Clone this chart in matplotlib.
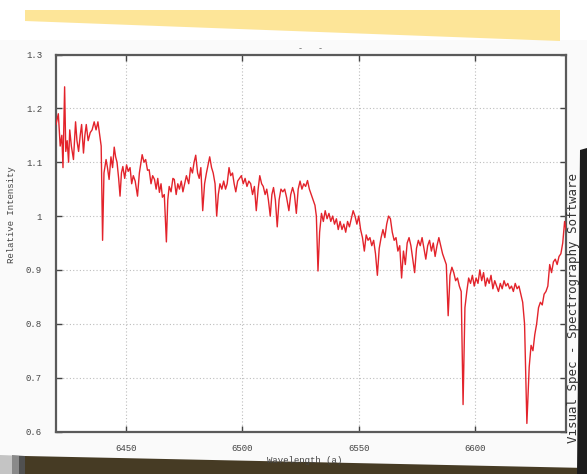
import matplotlib
matplotlib.use("Agg")
import matplotlib.pyplot as plt
from matplotlib.patches import Polygon

wavelength = [
    6420.0, 6421.0, 6421.8, 6422.5, 6423.0, 6423.7, 6424.2, 6424.8, 6425.4, 6425.9,
    6426.6, 6427.5, 6428.4, 6429.0, 6429.7, 6430.4, 6431.0, 6431.8, 6432.4, 6433.0,
    6433.8, 6434.7, 6435.5, 6436.4, 6437.2, 6438.0, 6438.8, 6439.4, 6440.0, 6440.6,
    6441.5, 6442.1, 6442.8, 6443.6, 6444.3, 6445.0, 6445.6, 6446.2, 6446.9, 6447.5,
    6448.1, 6448.7, 6449.5, 6450.3, 6451.0, 6451.8, 6452.5, 6453.2, 6454.0, 6455.0,
    6455.8, 6456.5, 6457.0, 6457.8, 6458.5, 6459.3, 6460.0, 6460.8, 6461.5, 6462.3,
    6463.0, 6463.7, 6464.4, 6465.1, 6465.7, 6466.5, 6467.4, 6468.0, 6468.6, 6469.4,
    6470.2, 6470.8, 6471.6, 6472.3, 6473.0, 6473.8, 6474.5, 6475.2, 6476.0, 6477.0,
    6477.8, 6478.6, 6479.3, 6480.0, 6480.8, 6481.5, 6482.2, 6483.0, 6483.8, 6484.6,
    6485.3, 6486.0, 6486.8, 6487.5, 6488.3, 6489.0, 6489.7, 6490.4, 6491.2, 6492.0,
    6492.8, 6493.5, 6494.3, 6495.0, 6495.8, 6496.5, 6497.2, 6498.0, 6498.8, 6499.6,
    6500.4, 6501.2, 6502.0, 6502.8, 6503.6, 6504.4, 6505.2, 6506.0, 6506.8, 6507.5,
    6508.3, 6509.0, 6509.8, 6510.5, 6511.2, 6512.0, 6512.7, 6513.4, 6514.2, 6515.0,
    6515.8, 6516.6, 6517.4, 6518.2, 6519.0, 6520.0, 6520.8, 6521.6, 6522.4, 6523.2,
    6524.0, 6524.8, 6525.6, 6526.4, 6527.2, 6528.0, 6528.8, 6529.6, 6530.4, 6531.2,
    6531.8, 6532.5, 6533.2, 6534.0, 6534.8, 6535.6, 6536.4, 6537.2, 6538.0, 6538.8,
    6539.6, 6540.4, 6541.2, 6542.0, 6542.8, 6543.6, 6544.4, 6545.2, 6546.0, 6546.8,
    6547.6, 6548.4, 6549.2, 6550.0, 6550.8, 6551.6, 6552.4, 6553.2, 6554.0, 6554.8,
    6555.6, 6556.4, 6557.2, 6558.0, 6558.8, 6559.6, 6560.4, 6561.2, 6562.0, 6562.8,
    6563.6, 6564.4, 6565.2, 6566.0, 6566.8, 6567.6, 6568.4, 6569.2, 6570.0, 6570.8,
    6571.6, 6572.4, 6573.2, 6574.0, 6574.8, 6575.6, 6576.4, 6577.2, 6578.0, 6578.8,
    6579.6, 6580.4, 6581.2, 6582.0, 6582.8, 6583.6, 6584.4, 6585.2, 6586.0, 6586.8,
    6587.6, 6588.4, 6589.2, 6590.0, 6590.8, 6591.6, 6592.4, 6593.2, 6594.0, 6594.8,
    6595.6, 6596.4, 6597.2, 6598.0, 6598.8, 6599.6, 6600.4, 6601.2, 6602.0, 6602.8,
    6603.6, 6604.4, 6605.2, 6606.0, 6606.8, 6607.6, 6608.4, 6609.2, 6610.0, 6610.8,
    6611.6, 6612.4, 6613.2, 6614.0, 6614.8, 6615.6, 6616.4, 6617.2, 6618.0, 6618.8,
    6619.6, 6620.4, 6621.2, 6622.2, 6623.2, 6624.0, 6624.8, 6625.6, 6626.4, 6627.2,
    6628.0, 6628.8, 6629.6, 6630.4, 6631.2, 6632.0, 6632.8, 6633.6, 6634.4, 6635.2,
    6636.0, 6636.8, 6637.6, 6638.4, 6639.0,
]

intensity = [
    1.17, 1.19, 1.13, 1.15, 1.09, 1.24, 1.12, 1.14, 1.10, 1.16,
    1.13, 1.105, 1.175, 1.14, 1.12, 1.15, 1.17, 1.117, 1.15, 1.17,
    1.14, 1.155, 1.16, 1.175, 1.16, 1.175, 1.15, 1.13, 0.955, 1.08,
    1.105, 1.09, 1.068, 1.11, 1.09, 1.128, 1.11, 1.10, 1.07, 1.037,
    1.08, 1.092, 1.07, 1.095, 1.083, 1.09, 1.06, 1.075, 1.065, 1.037,
    1.08, 1.10, 1.114, 1.10, 1.105, 1.085, 1.086, 1.06, 1.075, 1.068,
    1.05, 1.07, 1.044, 1.06, 1.035, 1.04, 0.952, 1.03, 1.055, 1.045,
    1.07, 1.068, 1.04, 1.06, 1.05, 1.065, 1.045, 1.059, 1.075, 1.06,
    1.09, 1.08, 1.10, 1.113, 1.08, 1.07, 1.09, 1.01, 1.06, 1.08,
    1.095, 1.11, 1.09, 1.08, 1.06, 1.0, 1.04, 1.06, 1.05, 1.065,
    1.05, 1.06, 1.09, 1.075, 1.08, 1.06, 1.045, 1.065, 1.07, 1.075,
    1.06, 1.07, 1.055, 1.065, 1.06, 1.04, 1.055, 1.01, 1.05, 1.075,
    1.06, 1.055, 1.04, 1.05, 1.03, 1.0, 1.04, 1.053, 1.03, 0.98,
    1.03, 1.05, 1.045, 1.05, 1.035, 1.01, 1.04, 1.053, 1.04, 1.005,
    1.05, 1.065, 1.05, 1.06, 1.055, 1.066, 1.05, 1.04, 1.03, 1.02,
    1.0, 0.898, 0.97, 1.005, 0.99, 1.01, 0.995, 1.005, 0.99, 1.0,
    0.985, 0.995, 0.975, 0.99, 0.975, 0.985, 0.97, 0.99, 0.98, 0.995,
    1.01, 1.0, 0.985, 1.0, 0.975, 0.96, 0.935, 0.965, 0.955, 0.96,
    0.945, 0.955, 0.93, 0.89, 0.94, 0.96, 0.975, 0.96, 0.985, 1.0,
    0.995, 0.97, 0.955, 0.96, 0.935, 0.945, 0.885, 0.935, 0.91, 0.95,
    0.96, 0.945, 0.92, 0.895, 0.94, 0.955, 0.945, 0.96, 0.94, 0.92,
    0.945, 0.955, 0.935, 0.95, 0.925, 0.945, 0.96, 0.945, 0.93, 0.92,
    0.91, 0.815, 0.89, 0.905, 0.895, 0.88, 0.885, 0.87, 0.86, 0.65,
    0.83, 0.86, 0.885, 0.875, 0.89, 0.87, 0.885, 0.875, 0.9, 0.88,
    0.895, 0.87, 0.885, 0.875, 0.89, 0.865, 0.88, 0.87, 0.86, 0.875,
    0.865, 0.88, 0.87, 0.875, 0.865, 0.87, 0.86, 0.875, 0.865, 0.87,
    0.855, 0.84, 0.8, 0.615, 0.72, 0.76, 0.75, 0.78, 0.8, 0.83,
    0.84, 0.835, 0.855, 0.86, 0.87, 0.91, 0.895, 0.915, 0.92, 0.91,
    0.925, 0.93, 0.95, 0.99, 0.975,
]

x_ticks = [6450, 6500, 6550, 6600]
x_tick_labels = ["6450", "6500", "6550", "6600"]
y_ticks = [0.6, 0.7, 0.8, 0.9, 1.0, 1.1, 1.2, 1.3]
y_tick_labels = ["0.6", "0.7", "0.8", "0.9", "1", "1.1", "1.2", "1.3"]

W, H = 587, 474
fig = plt.figure(figsize=(W / 100, H / 100), dpi=100, facecolor="#fafafa")


def fpts(points):
    return [(x / W, 1 - y / H) for x, y in points]


def band(points, color, z=-5):
    fig.add_artist(Polygon(fpts(points), closed=True, transform=fig.transFigure,
                           facecolor=color, edgecolor="none", zorder=z))


# photo surroundings
band([(0, 0), (587, 0), (587, 40), (0, 40)], "#ffffff", -6)
band([(25, 10), (560, 10), (560, 41), (25, 21)], "#fde598")
band([(25, 456), (587, 468), (587, 474), (25, 474)], "#463b24")
band([(0, 455), (25, 456), (25, 474), (0, 474)], "#c4c4c4")
band([(12, 455), (25, 456), (25, 474), (12, 474)], "#8a8a8a")
band([(19, 456), (25, 456), (25, 474), (19, 474)], "#505050")
band([(580, 150), (587, 148), (587, 474), (577, 474)], "#1c1c1c")

ax = fig.add_axes([56 / W, 1 - 431.5 / H, 510 / W, 377 / H])
ax.set_facecolor("#ffffff")
ax.plot(wavelength, intensity, color="#e3232b", lw=1.0, zorder=3)

ax.set_xlim(6420, 6639)
ax.set_ylim(0.6, 1.3)
ax.set_xticks(x_ticks)
ax.set_xticklabels(x_tick_labels)
ax.set_yticks(y_ticks)
ax.set_yticklabels(y_tick_labels)

mono = "Liberation Mono"
ax.tick_params(axis="both", direction="in", length=4, width=1, color="#444444",
               labelsize=6.5, labelcolor="#444444", top=True, right=True)
ax.tick_params(axis="x", pad=9)
ax.tick_params(axis="y", pad=10)
for lab in ax.get_xticklabels() + ax.get_yticklabels():
    lab.set_fontfamily(mono)

ax.grid(True, linestyle=(0, (1, 2)), color="#bdbdbd", lw=0.8)
for sp in ax.spines.values():
    sp.set_color("#5a5a5a")
    sp.set_linewidth(1.6)

ax.set_title("-   -", fontsize=6, color="#444444", pad=3, family=mono)
ax.set_xlabel("Wavelength (a)", fontsize=6.5, color="#444444", family=mono)
ax.xaxis.set_label_coords(0.487, -0.064)
ax.set_ylabel("Relative Intensity", fontsize=6.5, color="#444444", family=mono)
ax.yaxis.set_label_coords(-0.079, 0.574)

fig.text(573 / W, 1 - 308 / H, "Visual Spec - Spectrography Software",
         rotation=90, ha="center", va="center", fontsize=9, color="#333333",
         family="DejaVu Sans Mono")

fig.savefig("out.png", dpi=100, facecolor=fig.get_facecolor())
